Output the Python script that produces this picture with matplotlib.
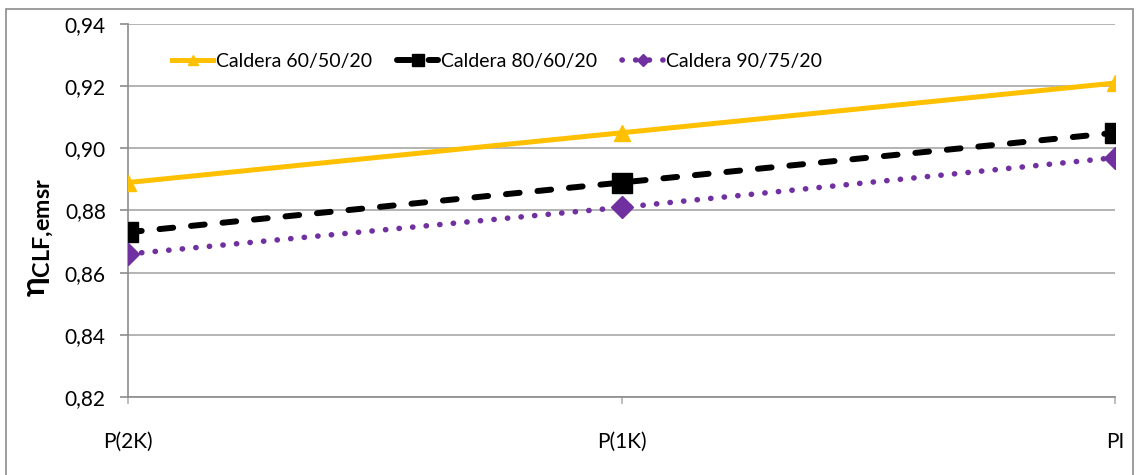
import matplotlib.pyplot as plt
import matplotlib.patches as patches

plt.rcParams['font.family'] = ['Lato', 'DejaVu Sans']
plt.rcParams['mathtext.fontset'] = 'custom'
plt.rcParams['mathtext.rm'] = 'Lato'
plt.rcParams['mathtext.it'] = 'Lato:bold'
plt.rcParams['mathtext.bf'] = 'Lato:bold'

categories = ['P(2K)', 'P(1K)', 'PI']
caldera_60 = [0.889, 0.905, 0.921]
caldera_80 = [0.873, 0.889, 0.905]
caldera_90 = [0.866, 0.881, 0.897]
yticks = [0.82, 0.84, 0.86, 0.88, 0.90, 0.92, 0.94]

fig = plt.figure(figsize=(11.37, 4.75), dpi=100)
ax = fig.add_axes([0.1126, 0.1642, 0.8681, 0.7853])

x = range(len(categories))
ax.plot(x, caldera_60, color='#FFC000', lw=3.6, marker='^', ms=12,
        label='Caldera 60/50/20', zorder=3)
ax.plot(x, caldera_80, color='black', lw=4.3, ls=(0, (2.3, 3.0)),
        dash_capstyle='round', marker='s', ms=15,
        label='Caldera 80/60/20', zorder=3)
ax.plot(x, caldera_90, color='#7030A0', lw=4.0, ls=(0, (0.05, 2.4)),
        dash_capstyle='round', marker='D', ms=11,
        label='Caldera 90/75/20', zorder=3)

ax.set_xlim(0, len(categories) - 1)
ax.set_ylim(0.82, 0.94)
ax.set_yticks(yticks)
ax.set_yticklabels([f'{v:.2f}'.replace('.', ',') for v in yticks])
ax.set_xticks(list(x))
ax.set_xticklabels(categories)
ax.yaxis.grid(True, color='#B3B3B3', lw=1.4)
ax.set_axisbelow(True)

for s in ['top', 'right']:
    ax.spines[s].set_visible(False)
for s in ['left', 'bottom']:
    ax.spines[s].set_color('#8C8C8C')
    ax.spines[s].set_linewidth(1.2)
ax.tick_params(axis='y', length=6, width=1.2, color='#8C8C8C',
               labelsize=15, pad=10)
ax.tick_params(axis='x', length=5, width=1.2, color='#B3B3B3',
               labelsize=15, pad=20)

fig.text(0.036, 0.5, r'$\eta_{\mathbf{CLF{,}emsr}}$', rotation=90,
         fontsize=24, ha='center', va='center')

ax.legend(loc='upper left', bbox_to_anchor=(0.027, 0.97), ncol=3,
          frameon=False, fontsize=14, handlelength=2.1,
          handletextpad=0.15, columnspacing=1.3, markerscale=0.6)

# outer chart border
fig.patches.append(patches.Rectangle((6 / 1137, -0.05), 1127 / 1137, 1.05 - 9 / 475,
                                     transform=fig.transFigure, fill=False,
                                     edgecolor='#8C8C8C', lw=1.2))

fig.savefig('out.png', dpi=100)
